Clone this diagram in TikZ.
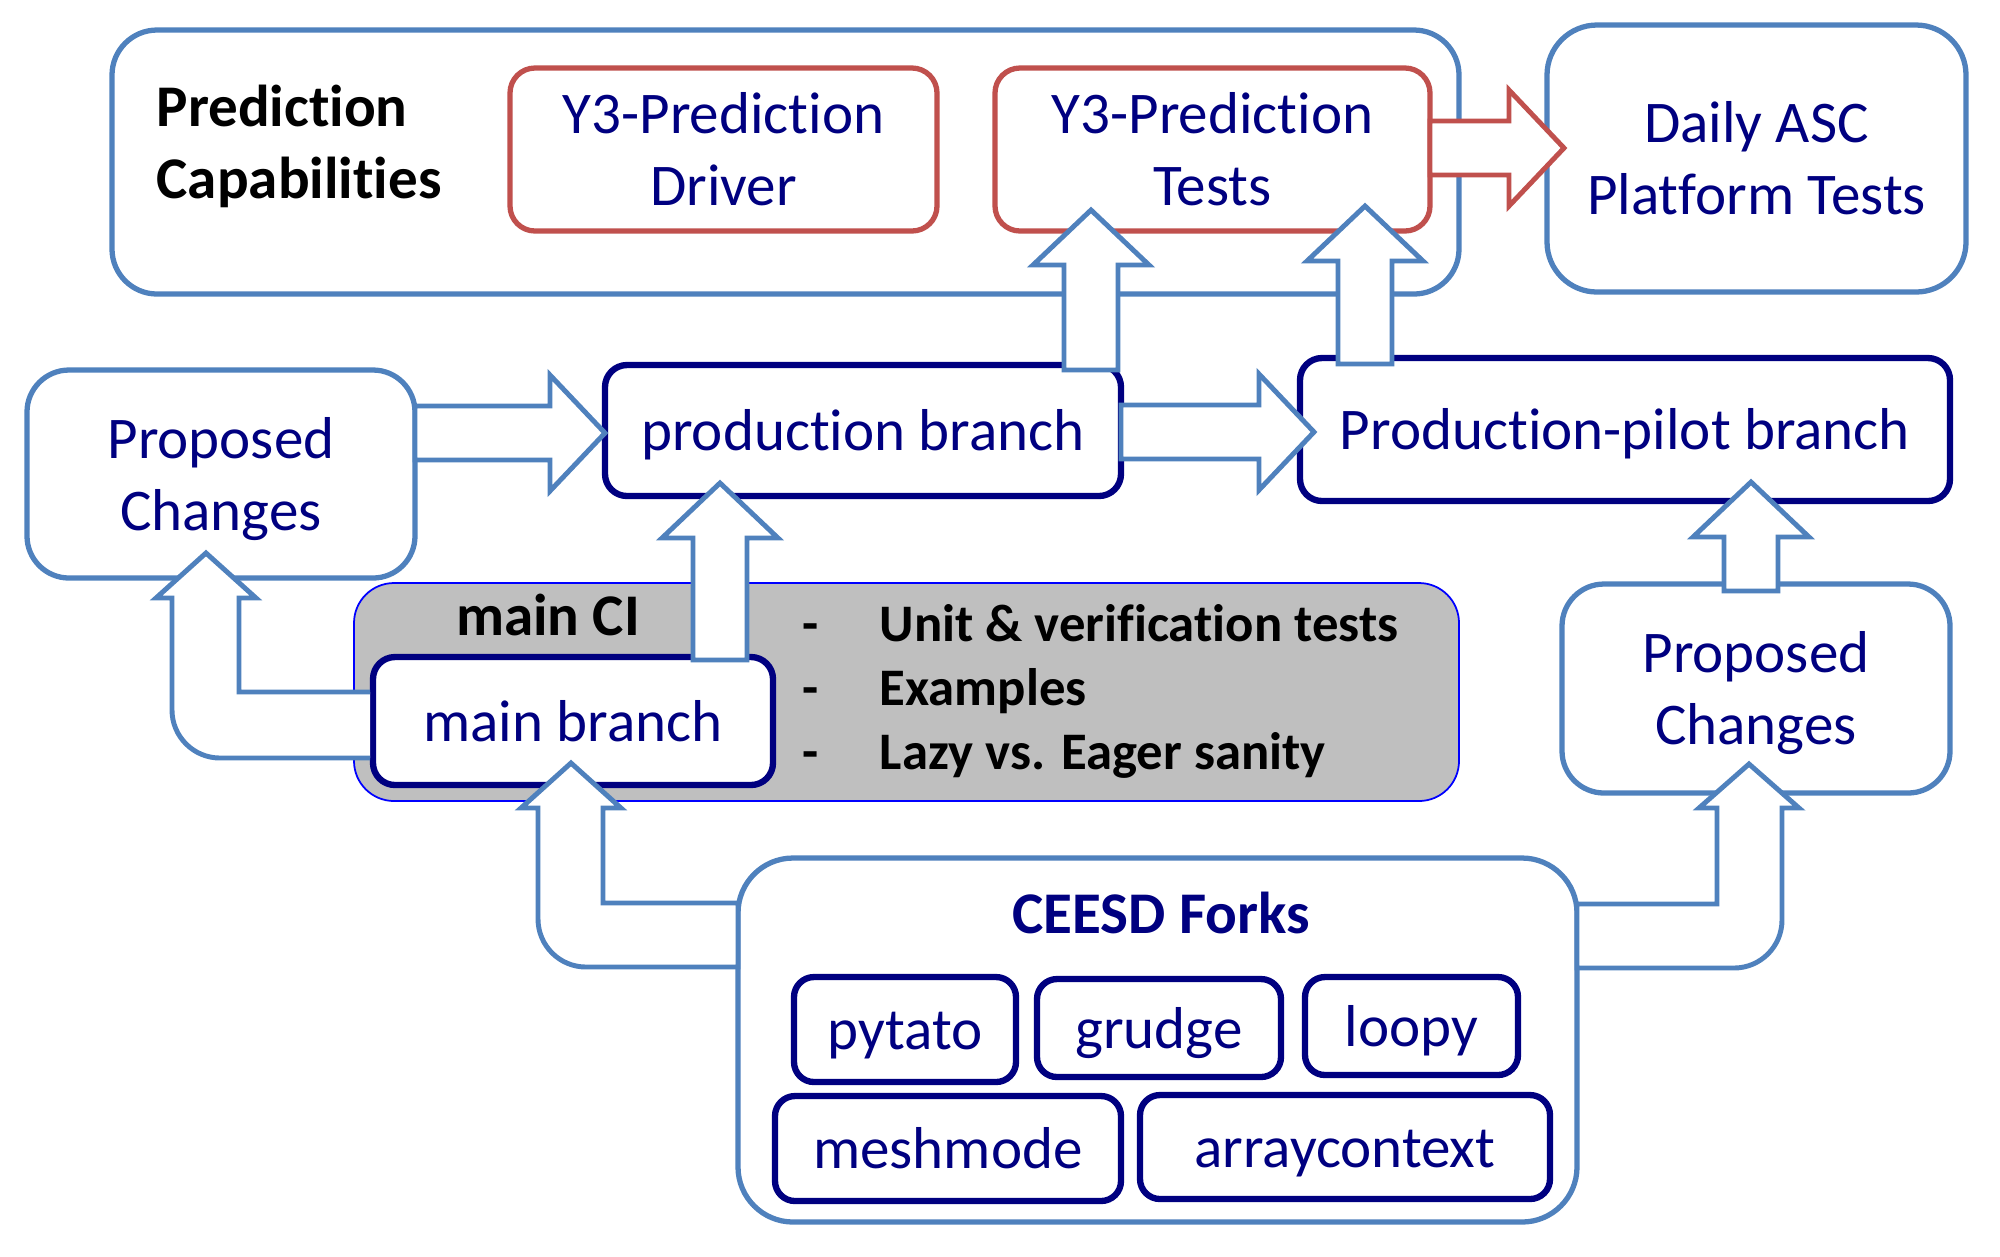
\documentclass[tikz,border=0pt]{standalone}
\usepackage{fontspec}
\setmainfont{Carlito}[Ligatures={NoCommon}]
\usetikzlibrary{fit,calc}
\definecolor{ublue}{HTML}{4F81BD}
\definecolor{ured}{HTML}{C0504D}
\definecolor{unavy}{HTML}{000080}
\definecolor{ugrey}{HTML}{BFBFBF}
\definecolor{uedge}{HTML}{0000FF}
\newcommand{\ms}{\rule[-0.2em]{0pt}{1.08em}}
\newcommand{\blkright}[3][blkarr]{\draw[#1] ($(#2)+(0,-27)$) -- ($(#3)+(-55,-27)$) -- ($(#3)+(-55,-58)$) -- (#3) -- ($(#3)+(-55,58)$) -- ($(#3)+(-55,27)$) -- ($(#2)+(0,27)$) -- cycle;}
\newcommand{\blkup}[3][blkarr]{\draw[#1] ($(#2)+(-27,0)$) -- ($(#3)+(-27,55)$) -- ($(#3)+(-58,55)$) -- (#3) -- ($(#3)+(58,55)$) -- ($(#3)+(27,55)$) -- ($(#2)+(27,0)$) -- cycle;}
\tikzset{
  bx/.style={draw, fill=white, rectangle, inner sep=0pt, outer sep=0pt},
  bluebox/.style={bx, draw=ublue, line width=1.5pt, rounded corners=0.42cm},
  redbox/.style={bx, draw=ured, line width=1.5pt, rounded corners=0.25cm},
  navybox/.style={bx, draw=unavy, line width=1.8pt, rounded corners=0.22cm},
  txt/.style={inner sep=0pt, text=unavy, align=center, font=\fontsize{16.8}{20.5}\selectfont},
  btxt/.style={inner sep=0pt, text=black, font=\bfseries\fontsize{15}{18}\selectfont},
  blkarr/.style={draw=ublue, fill=white, line width=1.4pt, line join=miter},
  redarr/.style={blkarr, draw=ured},
}
\begin{document}
\begin{tikzpicture}[x=0.01cm, y=-0.01cm]
\useasboundingbox (0,0) rectangle (2000,1256);
% containers
\node[bluebox, rounded corners=0.45cm, fit={(112,30) (1459,294)}] (predcap) {};
\node[bx, draw=uedge, fill=ugrey, line width=0.5pt, rounded corners=0.4cm, fit={(354,583) (1459,801)}] (mainci) {};
\node[bluebox, rounded corners=0.55cm, fit={(738,858) (1577,1222)}] (ceesd) {};
% boxes
\node[redbox, fit={(510,68) (937,231)}] (driver) {};
\node[redbox, fit={(995,68) (1430,231)}] (tests) {};
\node[bluebox, rounded corners=0.5cm, fit={(1547,25) (1966,292)}] (daily) {};
\node[navybox, fit={(605,365) (1121,496)}] (prod) {};
\node[navybox, fit={(1300,358) (1950,501)}] (pilot) {};
\node[bluebox, fit={(27,370) (415,578)}] (propL) {};
\node[bluebox, fit={(1562,584) (1950,793)}] (propR) {};
\node[navybox, rounded corners=0.2cm, fit={(794,977) (1016,1082)}] (pytato) {};
\node[navybox, rounded corners=0.2cm, fit={(1037,979) (1281,1077)}] (grudge) {};
\node[navybox, rounded corners=0.2cm, fit={(1305,977) (1518,1075)}] (loopy) {};
\node[navybox, rounded corners=0.2cm, fit={(775,1096) (1121,1201)}] (meshmode) {};
\node[navybox, rounded corners=0.2cm, fit={(1140,1095) (1550,1199)}] (arrayctx) {};
\node[navybox, fit={(373,657) (773,785)}] (mainb) {};
% texts
\node[txt, font=\bfseries\fontsize{16.8}{20.5}\selectfont, text=black, align=left, anchor=north west] (predcap-t) at (156,74) {\ms Prediction\\\ms Capabilities};
\node[txt] (driver-t) at (driver.center) {\ms Y3-Prediction\\\ms Driver};
\node[txt] (tests-t) at (tests.center) {\ms Y3-Prediction\\\ms Tests};
\node[txt] (daily-t) at (daily.center) {\ms Daily ASC\\\ms Platform Tests};
\node[txt] (prod-t) at (prod.center) {\ms production branch};
\node[txt] (pilot-t) at (pilot.center) {\ms Production-pilot branch};
\node[txt] (propL-t) at (propL.center) {\ms Proposed\\\ms Changes};
\node[txt] (propR-t) at (propR.center) {\ms Proposed\\\ms Changes};
\node[txt] (mainb-t) at (mainb.center) {\ms main branch};
\node[txt] (pytato-t) at (pytato.center) {\ms pytato};
\node[txt] (grudge-t) at (grudge.center) {\ms grudge};
\node[txt] (loopy-t) at (loopy.center) {\ms loopy};
\node[txt] (meshmode-t) at (meshmode.center) {\ms meshmode};
\node[txt] (arrayctx-t) at (arrayctx.center) {\ms arraycontext};
\node[btxt, font=\bfseries\fontsize{16.8}{20.5}\selectfont, anchor=base] (mainci-t) at (548,635) {main CI};
\node[btxt, anchor=base west] (b1) at (802,641) {\makebox[0.77cm][l]{-}Unit \& verification tests};
\node[btxt, anchor=base west] (b2) at (802,705) {\makebox[0.77cm][l]{-}Examples};
\node[btxt, anchor=base west] (b3) at (802,769) {\makebox[0.77cm][l]{-}Lazy vs. Eager sanity};
\node[txt, font=\bfseries\fontsize{16.8}{20.5}\selectfont, anchor=base] (ceesd-t) at (1161,933) {CEESD Forks};
% hook: main branch -> proposed changes (left)
\draw[blkarr] ($(mainb.west |- 0,758)+(-3,0)$) -- (220,758) .. controls (193.5,758) and (172,736.5) .. (172,710) -- (172,598) -- (156,598) -- ($(206,0 |- propL.south)+(0,-25)$) -- (256,598) -- (239,598) -- (239,692) -- ($(mainb.west |- 0,692)+(-3,0)$);
% hook: CEESD forks -> main branch
\draw[blkarr] (ceesd.west |- 0,967) -- (586,967) .. controls (559.5,967) and (538,945.5) .. (538,919) -- (538,808) -- (521,808) -- ($(571,0 |- mainb.south)+(0,-22)$) -- (621,808) -- (603,808) -- (603,903) -- (ceesd.west |- 0,903) -- cycle;
% hook: CEESD forks -> proposed changes (right)
\draw[blkarr] (ceesd.east |- 0,968) -- (1734,968) .. controls (1760.5,968) and (1782,946.5) .. (1782,920) -- (1782,808) -- (1799,808) -- ($(1749,0 |- propR.south)+(0,-29)$) -- (1699,808) -- (1717,808) -- (1717,904) -- (ceesd.east |- 0,904) -- cycle;
% straight block arrows
\coordinate (a1s) at (propL.east |- 0,433);
\coordinate (a1t) at (prod.west |- 0,433);
\blkright{a1s}{a1t}
\coordinate (a2s) at (prod.east |- 0,432);
\coordinate (a2t) at ($(pilot.west |- 0,432)+(14,0)$);
\blkright{a2s}{a2t}
\coordinate (a3s) at (tests.east |- 0,148);
\coordinate (a3t) at ($(daily.west |- 0,148)+(17,0)$);
\blkright[redarr]{a3s}{a3t}
\coordinate (a4s) at ($(1091,0 |- prod.north)+(0,5)$);
\coordinate (a4t) at ($(1091,0 |- tests.south)+(0,-21)$);
\blkup{a4s}{a4t}
\coordinate (a5s) at ($(1365,0 |- pilot.north)+(0,6)$);
\coordinate (a5t) at ($(1365,0 |- tests.south)+(0,-25)$);
\blkup{a5s}{a5t}
\coordinate (a6s) at ($(720,0 |- mainb.north)+(0,3)$);
\coordinate (a6t) at ($(720,0 |- prod.south)+(0,-13)$);
\blkup{a6s}{a6t}
\coordinate (a7s) at ($(1751,0 |- propR.north)+(0,7)$);
\coordinate (a7t) at ($(1751,0 |- pilot.south)+(0,-19)$);
\blkup{a7s}{a7t}
\end{tikzpicture}
\end{document}
